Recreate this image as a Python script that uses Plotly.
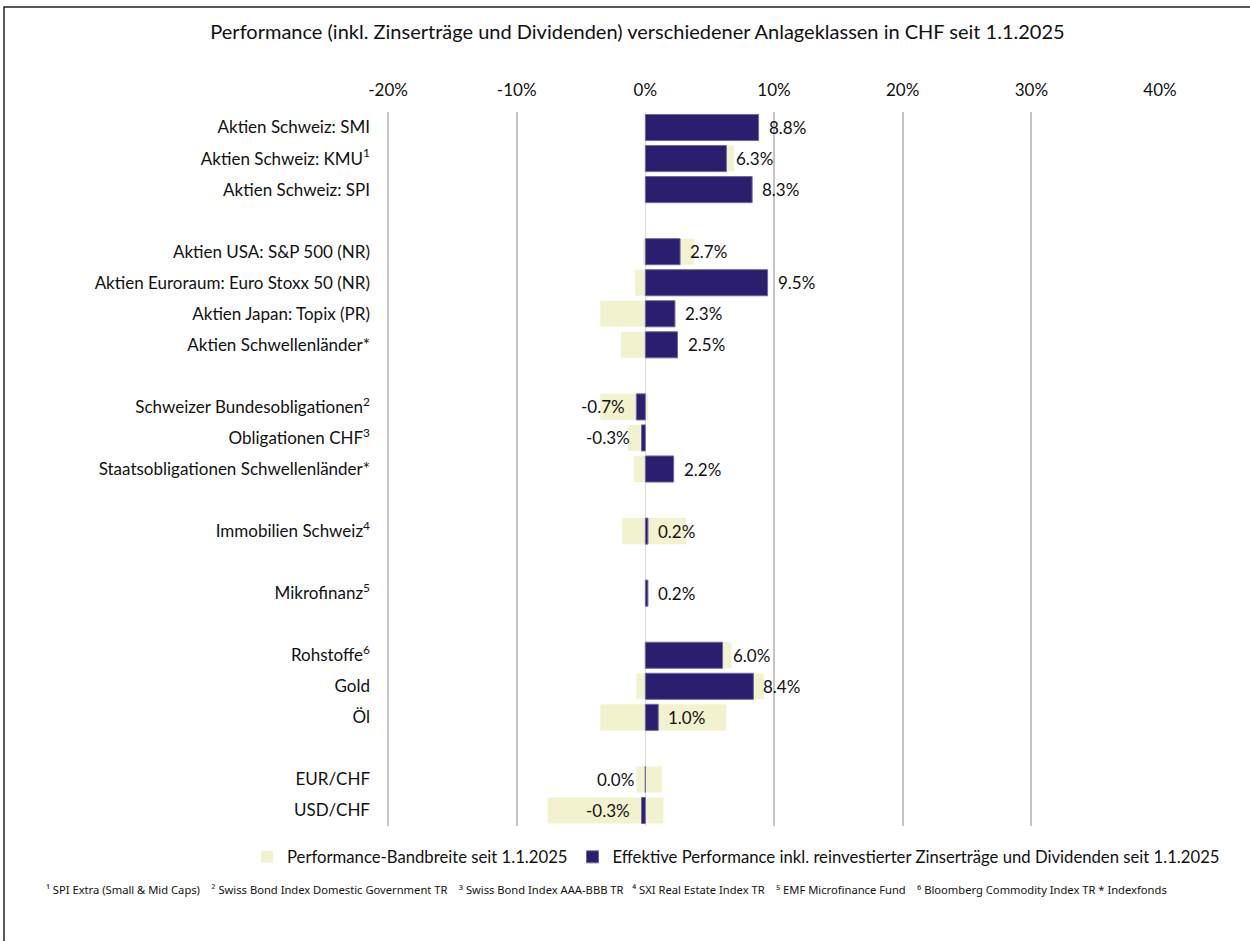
import plotly.graph_objects as go

# ---------------- data ----------------
categories = [
    "Aktien Schweiz: SMI",
    "Aktien Schweiz: KMU<sup>1</sup>",
    "Aktien Schweiz: SPI",
    "",
    "Aktien USA: S&P 500 (NR)",
    "Aktien Euroraum: Euro Stoxx 50 (NR)",
    "Aktien Japan: Topix (PR)",
    "Aktien Schwellenländer*",
    "",
    "Schweizer Bundesobligationen<sup>2</sup>",
    "Obligationen CHF<sup>3</sup>",
    "Staatsobligationen Schwellenländer*",
    "",
    "Immobilien Schweiz<sup>4</sup>",
    "",
    "Mikrofinanz<sup>5</sup>",
    "",
    "Rohstoffe<sup>6</sup>",
    "Gold",
    "Öl",
    "",
    "EUR/CHF",
    "USD/CHF",
]
# effective performance (%), None for spacer rows
effective = [8.8, 6.3, 8.3, None, 2.7, 9.5, 2.3, 2.5, None,
             -0.7, -0.3, 2.2, None, 0.2, None, 0.2, None,
             6.0, 8.4, 1.0, None, 0.0, -0.3]
# performance range since 1.1.2025 (min / max, %)
range_min = [0.0, 0.0, 0.0, None, -0.2, -0.8, -3.5, -1.9, None,
             -3.5, -1.35, -0.9, None, -1.8, None, 0.0, None,
             -0.1, -0.7, -3.5, None, -0.7, -7.6]
range_max = [8.8, 6.9, 8.3, None, 3.8, 9.5, 2.3, 2.5, None,
             0.2, 0.05, 2.2, None, 3.2, None, 0.2, None,
             6.7, 9.2, 6.3, None, 1.3, 1.4]

x_ticks = [-20, -10, 0, 10, 20, 30, 40]
x_tick_labels = ["-20%", "-10%", "0%", "10%", "20%", "30%", "40%"]

title_text = ("Performance (inkl. Zinserträge und Dividenden) verschiedener "
              "Anlageklassen in CHF seit 1.1.2025")
legend_range = "Performance-Bandbreite seit 1.1.2025"
legend_eff = ("Effektive Performance inkl. reinvestierter Zinserträge und "
              "Dividenden seit 1.1.2025")
footnote = ("¹ SPI Extra (Small & Mid Caps)    ² Swiss Bond Index Domestic Government TR    "
            "³ Swiss Bond Index AAA-BBB TR   ⁴ SXI Real Estate Index TR    "
            "⁵ EMF Microfinance Fund    ⁶ Bloomberg Commodity Index TR * Indexfonds")

# ---------------- style ----------------
FONT = "Lato"
DARK = "#2B1E6E"
LIGHT = "#F2F3CE"
W, H = 1250, 941
ML, MR, MT, MB = 387, 90, 112, 115
X_RANGE = [-20.08, 40]

rows = list(range(len(categories)))
idx = [i for i in rows if effective[i] is not None]
ridx = [i for i in rows if range_min[i] is not None]

fig = go.Figure()
fig.add_trace(go.Bar(
    y=[rows[i] for i in ridx],
    x=[range_max[i] - range_min[i] for i in ridx],
    base=[range_min[i] for i in ridx],
    orientation="h",
    marker=dict(color=LIGHT, line=dict(width=0)),
    width=0.84,
    name=legend_range,
    hoverinfo="skip",
))
fig.add_trace(go.Bar(
    y=[rows[i] for i in idx],
    x=[effective[i] for i in idx],
    orientation="h",
    marker=dict(color=DARK, line=dict(color="#6F68A8", width=1)),
    width=0.84,
    name=legend_eff,
    hoverinfo="skip",
))

# value labels (outside end of the effective-performance bar)
for i in idx:
    v = effective[i]
    pos = v > 0
    fig.add_annotation(x=v, y=rows[i], text=f"{v:.1f}%", showarrow=False,
                       xanchor="left" if pos else "right",
                       xshift=8 if pos else -9,
                       font=dict(family=FONT, size=17, color="#111"))

pw, ph = W - ML - MR, H - MT - MB

# footnote
fig.add_annotation(xref="paper", yref="paper",
                   x=(44 - ML) / pw, y=-(890 - (H - MB)) / ph,
                   xanchor="left", yanchor="middle", showarrow=False,
                   text=footnote, font=dict(family="Noto Sans", size=11.2, color="#111"))

# outer frame
fig.add_shape(type="rect", xref="paper", yref="paper",
              x0=(4 - ML) / pw, x1=(W + 20 - ML) / pw,
              y0=((H - MB) - (H + 20)) / ph, y1=((H - MB) - 7) / ph,
              line=dict(color="#222", width=1.5), fillcolor="rgba(0,0,0,0)")

fig.update_layout(
    width=W, height=H,
    margin=dict(l=ML, r=MR, t=MT, b=MB),
    paper_bgcolor="white", plot_bgcolor="white",
    barmode="overlay",
    font=dict(family=FONT, size=17, color="#111"),
    title=dict(text=title_text, x=0.51, xanchor="center", y=1 - 32 / H,
               yanchor="middle", font=dict(family=FONT, size=20, color="#111")),
    showlegend=True,
    legend=dict(orientation="h", x=(247 - ML) / pw, xanchor="left",
                y=-(857 - (H - MB)) / ph, yanchor="middle",
                font=dict(family=FONT, size=16.7, color="#111"),
                traceorder="normal", itemwidth=30),
    xaxis=dict(range=X_RANGE, side="top", tickvals=x_ticks, ticktext=x_tick_labels,
               showgrid=True, gridcolor="#C4C4C4", gridwidth=2,
               zeroline=True, zerolinecolor="#D9D9D9", zerolinewidth=1,
               showline=False, ticks="", ticklabelstandoff=12,
               tickfont=dict(family=FONT, size=17, color="#111"), fixedrange=True),
    yaxis=dict(tickvals=rows, ticktext=categories, range=[len(rows) - 0.5, -0.5],
               showgrid=False, zeroline=False, showline=False, ticks="",
               ticklabelstandoff=16,
               tickfont=dict(family=FONT, size=17, color="#111"), fixedrange=True),
)

fig.write_html("out.html")
